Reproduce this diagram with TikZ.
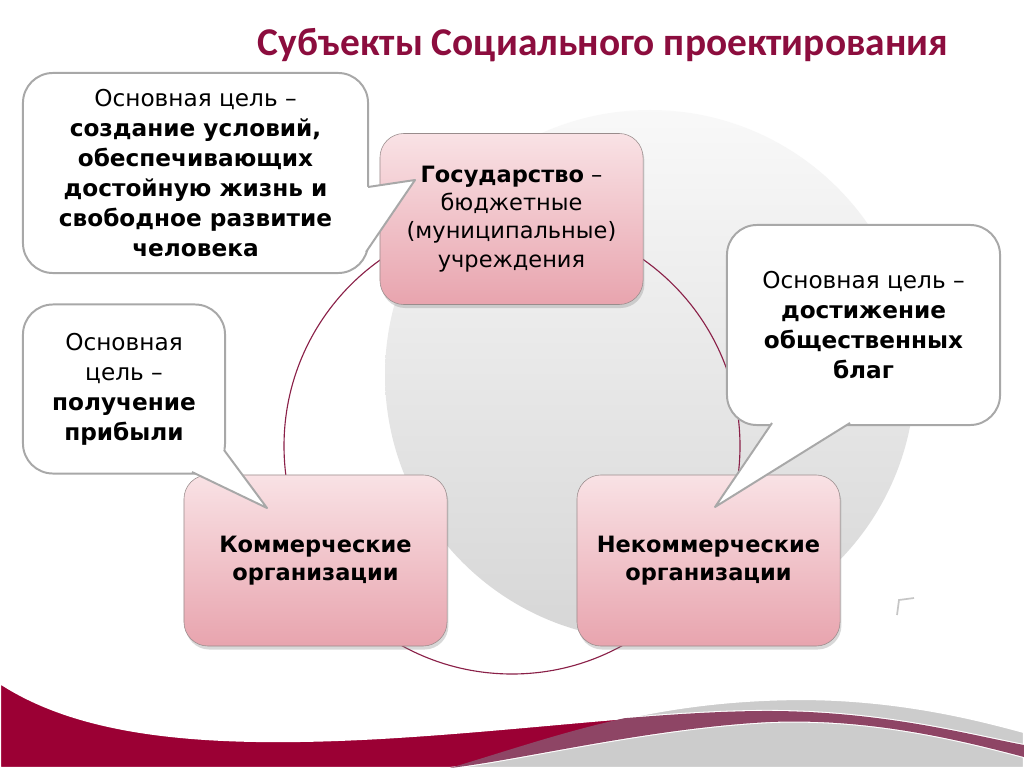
\documentclass[tikz,border=0pt]{standalone}
\usepackage{fontspec}
\setmainfont{DejaVu Sans}
\newfontfamily\titlefont{Carlito}
\usetikzlibrary{shadows}

\definecolor{maroon}{HTML}{9B0034}
\definecolor{titlered}{HTML}{8C0D3E}
\definecolor{pinktop}{HTML}{F9E2E5}
\definecolor{pinkbot}{HTML}{E8A4AE}
\definecolor{balloonline}{HTML}{A8A8A8}
\definecolor{ringline}{HTML}{8A2048}
\definecolor{bandgrey}{HTML}{8E4565}

\tikzset{
  subject/.style={rounded corners=0.6cm, draw=gray!80!pink, thin,
    top color=pinktop, bottom color=pinkbot,
    minimum width=6.575cm, minimum height=4.275cm, align=center,
    font=\fontsize{16}{20}\selectfont,
    drop shadow={opacity=0.3, shadow xshift=1pt, shadow yshift=-2.5pt}},
  balloon/.style={rounded corners=0.75cm, draw=balloonline, line width=1.4pt,
    fill=white, align=center, font=\fontsize{16.5}{21.3}\selectfont},
  tailfill/.style={fill=white},
  tailline/.style={draw=balloonline, line width=1.4pt, line join=round}
}

\begin{document}
\begin{tikzpicture}[x=0.025cm, y=-0.025cm]
  \useasboundingbox (0,0) rectangle (1024,768);
  \fill[white] (0,0) rectangle (1024,768);

  % background disc and ring
  \shade[top color=gray!5, bottom color=gray!32] (650,375) circle [radius=265];
  \draw[ringline, line width=0.8pt] (512,446) circle [radius=228];

  % bottom swoosh
  \fill[gray!40, draw=white, line width=1.5pt] (450,768) .. controls (560,735) and (650,700) .. (800,699)
    .. controls (900,699) and (980,720) .. (1024,732) -- (1024,768) -- cycle;
  \fill[maroon, draw=white, line width=1.5pt] (0,683) .. controls (80,735) and (200,748) .. (380,738)
    .. controls (520,730) and (650,712) .. (760,711) .. controls (880,710) and (970,735) .. (1024,745)
    -- (1024,757) .. controls (960,740) and (870,718) .. (770,722)
    .. controls (650,728) and (520,760) .. (450,768) -- (0,768) -- cycle;
  \begin{scope}
    \clip (450,768) .. controls (560,735) and (650,700) .. (800,699)
      .. controls (900,699) and (980,720) .. (1024,732) -- (1024,768) -- cycle;
    \fill[bandgrey] (380,738) .. controls (520,730) and (650,712) .. (760,711)
      .. controls (880,710) and (970,735) .. (1024,745) -- (1024,757)
      .. controls (960,740) and (870,718) .. (770,722)
      .. controls (650,728) and (520,760) .. (450,768) -- cycle;
  \end{scope}

  % subjects
  \node[subject] (state) at (511.5,219) {\textbf{Государство} –\\бюджетные\\(муниципальные)\\учреждения};
  \node[subject] (commerce) at (315.5,560.5) {\textbf{Коммерческие}\\\textbf{организации}};
  \node[subject] (noncommerce) at (708.5,560.5) {\textbf{Некоммерческие}\\\textbf{организации}};

  % goals
  \node[balloon, minimum width=8.625cm, minimum height=5cm] (goalstate) at (195.5,173)
    {Основная цель –\\\textbf{создание условий,}\\\textbf{обеспечивающих}\\\textbf{достойную жизнь и}\\\textbf{свободное развитие}\\\textbf{человека}};
  \fill[tailfill] (360,186) -- (368,187) coordinate (sa) -- (415,180) coordinate (st)
    -- (366,252) coordinate (sb) -- (358,250) -- cycle;
  \draw[tailline] (sa) -- (st) -- (sb);

  \node[balloon, minimum width=5.05cm, minimum height=4.225cm] (goalprofit) at (124,389)
    {Основная\\цель –\\\textbf{получение}\\\textbf{прибыли}};
  \fill[tailfill] (185,465) -- (192,472) coordinate (pa) -- (267,508) coordinate (pt)
    -- (224,450) coordinate (pb) -- (218,445) -- cycle;
  \draw[tailline] (pa) -- (pt) -- (pb);

  \node[balloon, minimum width=6.825cm, minimum height=5cm] (goalgood) at (863.5,325)
    {Основная цель –\\\textbf{достижение}\\\textbf{общественных}\\\textbf{благ}};
  \fill[tailfill] (770,417) -- (772,423) coordinate (ga) -- (715,507) coordinate (gt)
    -- (850,423) coordinate (gb) -- (852,417) -- cycle;
  \draw[tailline] (ga) -- (gt) -- (gb);

  % title
  \node[font=\titlefont\bfseries\fontsize{28}{34}\selectfont, text=titlered] (title) at (603,45)
    {Субъекты Социального проектирования};

  \draw[gray!45, line width=1.2pt] (897,615) -- (899,600) -- (914,598);
\end{tikzpicture}
\end{document}
